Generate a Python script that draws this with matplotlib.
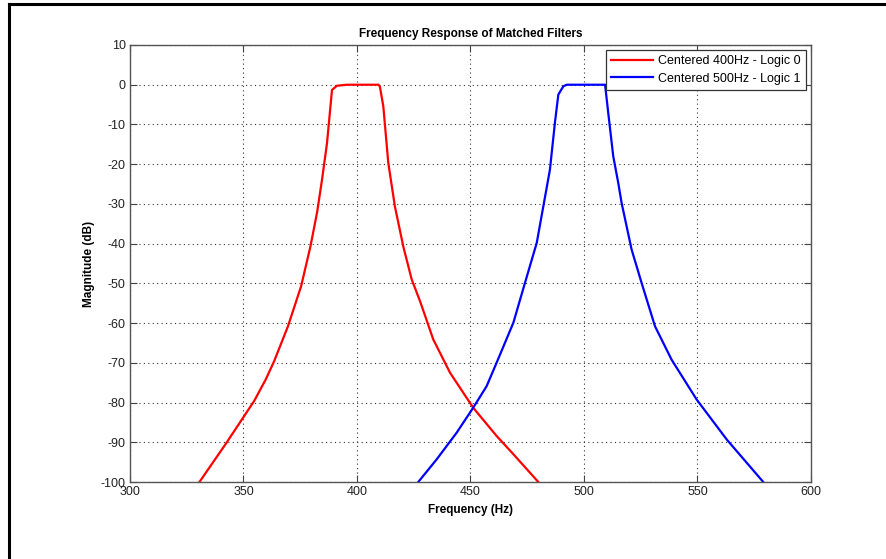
import matplotlib.pyplot as plt
from matplotlib.lines import Line2D

plt.rcParams['font.family'] = ['Liberation Sans', 'DejaVu Sans']
plt.rcParams['axes.unicode_minus'] = False

# red filter, centered 400 Hz (logic 0)
f0 = [330.6, 342.3, 350.3, 354.7, 359.8, 363.5, 369.6, 375.4, 379.5, 382.5,
      384.6, 386.8, 389.0, 391.2, 395.6, 400.0, 405.0, 409.5, 410.1, 411.6,
      413.8, 416.7, 420.4, 424.1, 427.8, 433.6, 441.0, 451.2, 461.5, 468.9, 479.9]
mag0 = [-100, -90.3, -83.4, -79.6, -74.2, -69.6, -60.8, -50.7, -40.7, -31.9,
        -23.9, -14.7, -1.3, -0.25, 0, 0, 0, 0, -0.5, -5.4,
        -19.7, -30.6, -40.7, -49.0, -54.5, -64.1, -72.5, -81.3, -88.4, -93.0, -100]

# blue filter, centered 500 Hz (logic 1)
f1 = [427.0, 435.1, 443.9, 451.2, 457.1, 461.5, 468.9, 474.0, 479.2, 482.1,
      485.0, 487.2, 488.7, 490.9, 492.4, 500.0, 505.0, 509.3, 510.7, 512.9,
      515.1, 516.6, 521.0, 525.4, 531.3, 538.6, 549.6, 562.9, 579.0]
mag1 = [-100, -94.3, -87.6, -81.3, -75.9, -70.0, -59.9, -49.9, -39.8, -30.6,
        -21.4, -9.6, -2.5, -0.4, 0, 0, 0, 0, -7.1, -18.0,
        -24.7, -29.8, -41.5, -49.9, -60.8, -69.2, -79.2, -89.3, -100]

labels = ['Centered 400Hz - Logic 0', 'Centered 500Hz - Logic 1']
xticks = [300, 350, 400, 450, 500, 550, 600]
yticks = list(range(-100, 11, 10))

fig = plt.figure(figsize=(8.86, 5.59), dpi=100)
ax = fig.add_axes([0.1467, 0.1377, 0.7686, 0.7818])

ax.plot(f0, mag0, color='red', lw=1.6, label=labels[0])
ax.plot(f1, mag1, color='blue', lw=1.6, label=labels[1])

ax.set_xlim(300, 600)
ax.set_ylim(-100, 10)
ax.set_xticks(xticks)
ax.set_yticks(yticks)
ax.grid(True, linestyle=(0, (1, 3)), color='#333333', lw=0.8)
ax.tick_params(direction='in', length=5, top=True, right=True,
               labelsize=9, color='#444444', labelcolor='#222222', pad=3)
for s in ax.spines.values():
    s.set_color('#555555')
    s.set_linewidth(1.0)

ax.set_title('Frequency Response of Matched Filters', fontsize=8.5,
             fontweight='bold', pad=6)
ax.set_xlabel('Frequency (Hz)', fontsize=8.5, fontweight='bold', labelpad=4)
ax.set_ylabel('Magnitude (dB)', fontsize=8.5, fontweight='bold', labelpad=4)

leg = ax.legend(loc='upper right', fontsize=9, fancybox=False,
                framealpha=1, edgecolor='#333333', borderaxespad=0.4,
                handlelength=3.4, handletextpad=0.4, borderpad=0.4,
                labelspacing=0.45)
leg.get_frame().set_linewidth(0.9)

# figure window border (top and left)
fig.add_artist(Line2D([0.0105, 1.0], [0.9925, 0.9925], color='black', lw=2.2,
                      transform=fig.transFigure))
fig.add_artist(Line2D([0.0105, 0.0105], [0.0, 0.9925], color='black', lw=2.2,
                      transform=fig.transFigure))

fig.savefig('out.png', dpi=100)
